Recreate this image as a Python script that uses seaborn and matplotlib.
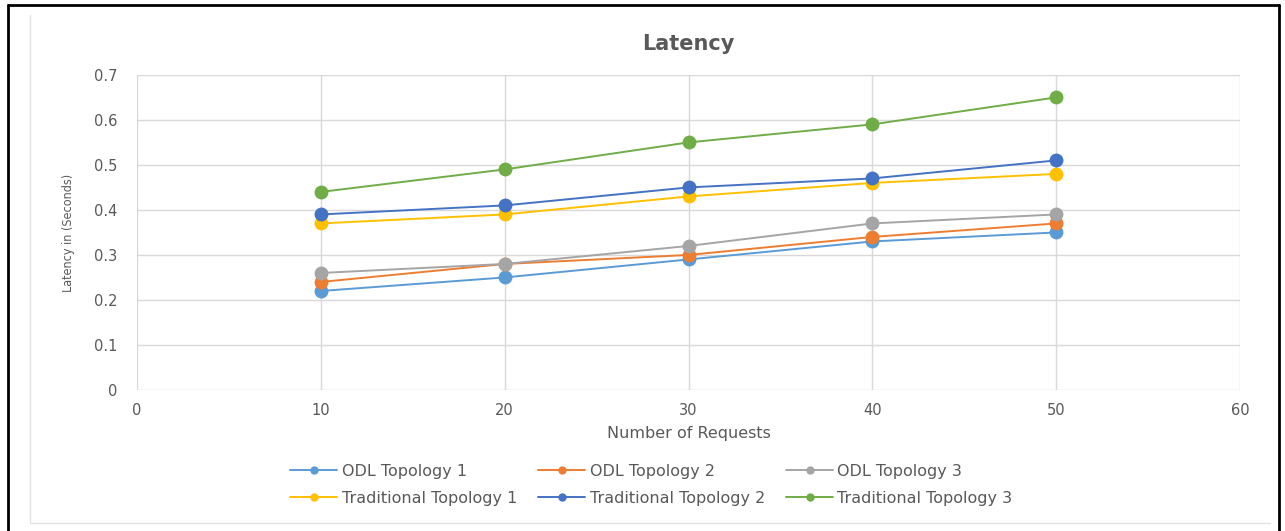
import matplotlib
matplotlib.use("Agg")
import matplotlib.pyplot as plt
import seaborn as sns
import pandas as pd
from matplotlib.lines import Line2D

requests = [10, 20, 30, 40, 50]
odl_topology_1 = [0.22, 0.25, 0.29, 0.33, 0.35]
odl_topology_2 = [0.24, 0.28, 0.30, 0.34, 0.37]
odl_topology_3 = [0.26, 0.28, 0.32, 0.37, 0.39]
trad_topology_1 = [0.37, 0.39, 0.43, 0.46, 0.48]
trad_topology_2 = [0.39, 0.41, 0.45, 0.47, 0.51]
trad_topology_3 = [0.44, 0.49, 0.55, 0.59, 0.65]

series_names = ["ODL Topology 1", "ODL Topology 2", "ODL Topology 3",
                "Traditional Topology 1", "Traditional Topology 2", "Traditional Topology 3"]
series_values = [odl_topology_1, odl_topology_2, odl_topology_3,
                 trad_topology_1, trad_topology_2, trad_topology_3]
colors = ["#5B9BD5", "#ED7D31", "#A5A5A5", "#FFC000", "#4472C4", "#70AD47"]

x_ticks = [0, 10, 20, 30, 40, 50, 60]
y_ticks = [0, 0.1, 0.2, 0.3, 0.4, 0.5, 0.6, 0.7]
y_tick_labels = ["0", "0.1", "0.2", "0.3", "0.4", "0.5", "0.6", "0.7"]

rows = []
for name, vals in zip(series_names, series_values):
    for r, v in zip(requests, vals):
        rows.append({"Requests": r, "Latency": v, "Series": name})
df = pd.DataFrame(rows)

sns.set_theme(style="white")
plt.rcParams['font.family'] = ['DejaVu Sans']

fig = plt.figure(figsize=(12.85, 5.31), dpi=100)
ax = fig.add_axes([0.1066, 0.2655, 0.8584, 0.5935])

palette = dict(zip(series_names, colors))
sns.lineplot(data=df, x="Requests", y="Latency", hue="Series", palette=palette,
             hue_order=series_names, marker="o", markersize=10, markeredgewidth=0,
             linewidth=1.4, ax=ax, legend=False, zorder=3)

ax.set_xlim(0, 60)
ax.set_ylim(0, 0.7)
ax.set_xticks(x_ticks)
ax.set_yticks(y_ticks)
ax.set_yticklabels(y_tick_labels)
ax.grid(True, color="#D9D9D9", linewidth=1)
for s in ax.spines.values():
    s.set_visible(False)
ax.tick_params(axis="y", colors="#595959", labelsize=10.5, length=0, pad=14)
ax.tick_params(axis="x", colors="#595959", labelsize=10.5, length=0, pad=9)

ax.set_xlabel("Number of Requests", color="#595959", fontsize=11.5, labelpad=6)
ax.set_ylabel("Latency in (Seconds)", color="#595959", fontsize=9, labelpad=14,
              fontstretch="condensed")
ax.set_title("Latency", color="#595959", fontsize=15, fontweight="bold", pad=18)

handles = [Line2D([0], [0], color=c, marker="o", markersize=6, linewidth=1.4,
                  markeredgewidth=0) for c in colors]
order = [0, 3, 1, 4, 2, 5]
fig.legend([handles[i] for i in order], [series_names[i] for i in order],
           loc="center", bbox_to_anchor=(0.507, 0.0866), ncol=3, frameon=False,
           fontsize=11.5, labelcolor="#595959", handlelength=2.9, columnspacing=1.35,
           handletextpad=0.3, labelspacing=0.75)

# faint chart-area outline
fig.add_artist(Line2D([30 / 1285, 30 / 1285], [1 - 523 / 531, 1 - 15 / 531],
                      color="#E3E3E3", linewidth=1, transform=fig.transFigure))
fig.add_artist(Line2D([30 / 1285, 1270 / 1285], [1 - 523 / 531, 1 - 523 / 531],
                      color="#E3E3E3", linewidth=1, transform=fig.transFigure))

# page frame lines
fig.add_artist(Line2D([0.006, 0.995], [0.99, 0.99], color="black", linewidth=2,
                      transform=fig.transFigure))
fig.add_artist(Line2D([0.006, 0.006], [0.0, 0.99], color="black", linewidth=2,
                      transform=fig.transFigure))
fig.add_artist(Line2D([0.995, 0.995], [0.0, 0.99], color="black", linewidth=2,
                      transform=fig.transFigure))

fig.savefig("out.png", dpi=100, facecolor="white")
